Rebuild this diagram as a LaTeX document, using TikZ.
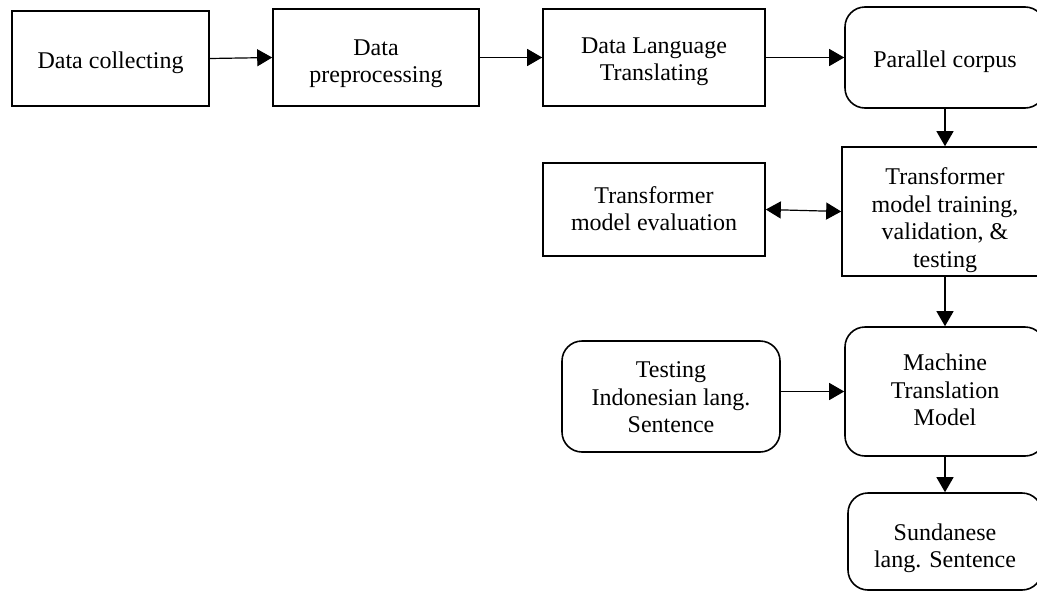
\documentclass[tikz,border=0pt]{standalone}
\usepackage{fontspec}
\setmainfont{Liberation Serif}
\usetikzlibrary{arrows.meta}
\newcommand{\boxtext}[2][3pt]{\raisebox{-#1}[\height][\depth]{\begin{tabular}{@{}c@{}}#2\end{tabular}}}
\begin{document}
\begin{tikzpicture}[x=1pt,y=-1pt,
  box/.style={draw,line width=1.6pt,align=center,font=\fontsize{24}{27.5}\selectfont,inner sep=0pt},
  rbox/.style={box,rounded corners=20pt},
  arr/.style={line width=1.2pt,-{Triangle[length=15pt,width=17pt]}},
  darr/.style={line width=1.2pt,{Triangle[length=15pt,width=17pt]}-{Triangle[length=15pt,width=17pt]}}]
\useasboundingbox (0,0) rectangle (1037,592);
\clip (0,0) rectangle (1037,592);
\node[box,minimum width=197pt,minimum height=95pt] (dc) at (110.5,58.5) {\boxtext[4pt]{Data collecting}};
\node[box,minimum width=206pt,minimum height=97pt] (dp) at (376,57.5) {\boxtext[6pt]{Data\\preprocessing}};
\node[box,minimum width=222pt,minimum height=97pt] (dl) at (654,57.5) {\boxtext[4pt]{Data Language\\Translating}};
\node[rbox,minimum width=200pt,minimum height=101pt] (pc) at (945,57.5) {\boxtext[4pt]{Parallel corpus}};
\node[box,minimum width=206pt,minimum height=129pt] (tr) at (945,211.5) {\boxtext[9pt]{Transformer\\model training,\\validation, \&\\testing}};
\node[box,minimum width=222pt,minimum height=93pt] (ev) at (654,209.5) {\boxtext[2pt]{Transformer\\model evaluation}};
\node[rbox,minimum width=200pt,minimum height=129pt] (mt) at (945,391.5) {\boxtext[1pt]{Machine\\Translation\\Model}};
\node[rbox,minimum width=218pt,minimum height=111pt] (ti) at (671,396.5) {\boxtext[3pt]{Testing\\Indonesian lang.\\Sentence}};
\node[rbox,minimum width=194pt,minimum height=97pt] (sd) at (945,541.5) {\boxtext[7pt]{Sundanese\\lang. Sentence}};
\draw[arr] (dc.east) -- (dp.west);
\draw[arr] (dp.east) -- (dl.west);
\draw[arr] (dl.east) -- (pc.west |- dl.east);
\draw[arr] (pc.south) -- (tr.north);
\draw[darr] (ev.east) -- (tr.west);
\draw[arr] (tr.south) -- (mt.north);
\draw[arr] (ti.east |- mt) -- (mt.west);
\draw[arr] (mt.south) -- (sd.north);
\end{tikzpicture}
\end{document}
